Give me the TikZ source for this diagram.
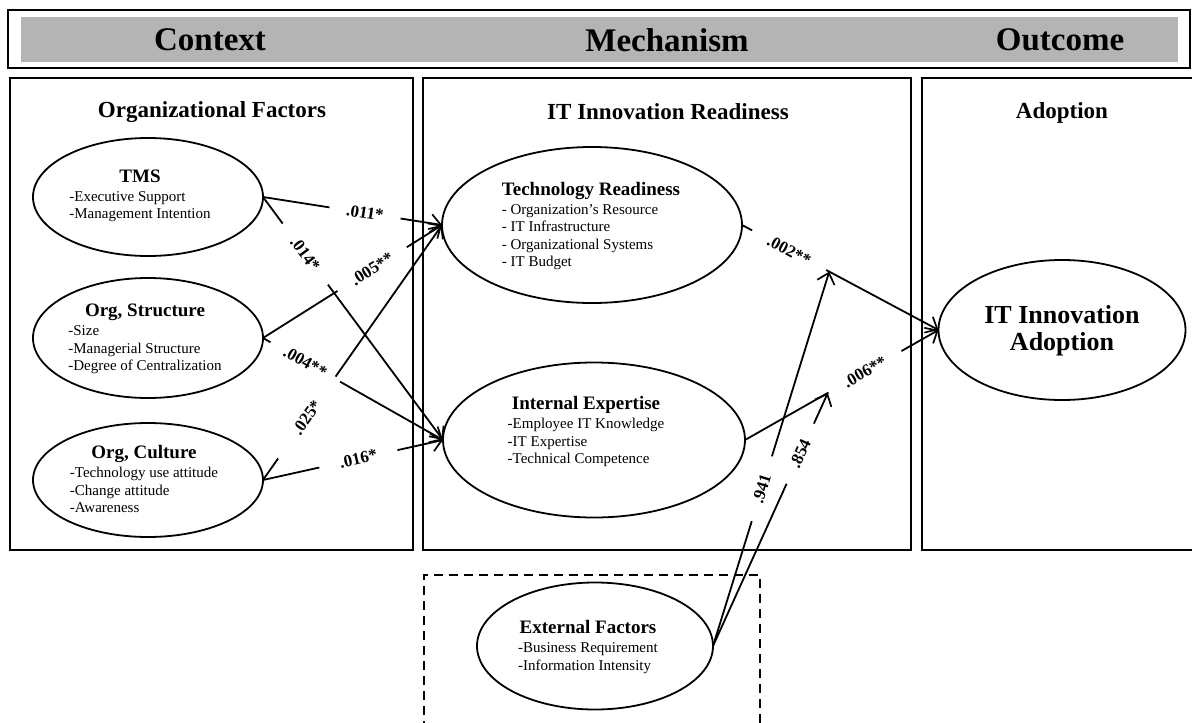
\documentclass[tikz,border=0pt]{standalone}
\usepackage{fontspec}
\setmainfont{Liberation Serif}
\usetikzlibrary{arrows.meta,calc,shapes.geometric}
\tikzset{
  frame/.style={draw, line width=1.8pt},
  oval/.style={draw, ellipse, line width=1.8pt, inner sep=0pt, outer sep=0pt},
  head/.style={font=\fontsize{33}{36}\selectfont\bfseries},
  sect/.style={font=\fontsize{23}{26}\selectfont\bfseries},
  body/.style={inner sep=0pt, font=\fontsize{15}{17.5}\selectfont},
  conn/.style={line width=1.8pt, -{Straight Barb[length=10pt,width=18pt,line width=1.7pt]}},
  lbl/.style={font=\fontsize{17}{19}\selectfont\bfseries, inner sep=1pt, sloped},
}
\newcommand{\oh}[1]{\multicolumn{1}{@{}c@{}}{\fontsize{19}{21}\selectfont\bfseries #1}\\[1.5pt]}
% connector with a gap around its label: from, to, pos, half gap, label
\newcommand{\gapline}[5]{%
  \draw[conn] let \p1=($(#2)-(#1)$), \n1={veclen(\x1,\y1)}, \n2={#3*\n1-#4}, \n3={2*#4} in
    [dash pattern=on \n2 off \n3 on 3000pt] (#1) -- node[lbl, pos=#3] {#5} (#2);}
\begin{document}
\begin{tikzpicture}[x=1pt,y=-1pt]
\useasboundingbox (0,0) rectangle (1192,723);
% header
\node[frame, minimum width=1182pt, minimum height=58pt, inner sep=0pt] (hdr) at (599,39) {};
\node[fill={rgb,255:red,180;green,180;blue,180}, minimum width=1157pt, minimum height=45pt, inner sep=0pt] (band) at (599,39.5) {};
\node[head] (hctx) at (210,40) {Context};
\node[head] (hmec) at (667,40) {Mechanism};
\node[head] (hout) at (1060,40) {Outcome};
% section frames
\draw[frame] (10,78) rectangle (413,550);
\draw[frame] (423,78) rectangle (911,550);
\draw[frame] (922,78) rectangle (1200,550);
\draw[frame, dash pattern=on 9pt off 6pt] (424,730) -- (424,575) -- (760,575) -- (760,730);
\node[sect] (sorg) at (212,112) {Organizational Factors};
\node[sect] (sit) at (668,112) {IT Innovation Readiness};
\node[sect] (sado) at (1062,113) {Adoption};
% ellipses
\node[oval, minimum width=230pt, minimum height=118pt] (tms) at (148,197) {};
\node[oval, minimum width=230pt, minimum height=120pt] (ors) at (148,338) {};
\node[oval, minimum width=230pt, minimum height=114pt] (orc) at (148,480) {};
\node[oval, minimum width=300pt, minimum height=156pt] (tr) at (592,225) {};
\node[oval, minimum width=302pt, minimum height=155pt] (ie) at (594,440) {};
\node[oval, minimum width=236pt, minimum height=127pt] (ext) at (595,646) {};
\node[oval, minimum width=247pt, minimum height=140pt] (ado) at (1062,330) {};
% texts
\node[body] (tmst) at (140,197) {\begin{tabular}{@{}l@{}}\oh{TMS}-Executive Support\\-Management Intention\end{tabular}};
\node[body] (orst) at (145,340) {\begin{tabular}{@{}l@{}}\oh{Org, Structure}-Size\\-Managerial Structure\\-Degree of Centralization\end{tabular}};
\node[body] (orct) at (144,482) {\begin{tabular}{@{}l@{}}\oh{Org, Culture}-Technology use attitude\\-Change attitude\\-Awareness\end{tabular}};
\node[body] (trt) at (591,227) {\begin{tabular}{@{}l@{}}\oh{Technology Readiness}- Organization's Resource\\- IT Infrastructure\\- Organizational Systems\\- IT Budget\end{tabular}};
\node[body] (iet) at (586,433) {\begin{tabular}{@{}l@{}}\oh{Internal Expertise}-Employee IT Knowledge\\-IT Expertise\\-Technical Competence\end{tabular}};
\node[body] (extt) at (588,648) {\begin{tabular}{@{}l@{}}\oh{External Factors}-Business Requirement\\-Information Intensity\end{tabular}};
\node[align=center, font=\fontsize{26}{27}\selectfont\bfseries] (adot) at (1062,331) {IT Innovation\\Adoption};
% connectors
\gapline{tms.east}{tr.west}{0.57}{36pt}{.011*}
\gapline{tms.east}{ie.west}{0.235}{38pt}{.014*}
\gapline{ors.east}{tr.west}{0.61}{41pt}{.005**}
\gapline{ors.east}{ie.west}{0.235}{40pt}{.004**}
\gapline{orc.east}{tr.west}{0.245}{50pt}{.025*}
\gapline{orc.east}{ie.west}{0.53}{40pt}{.016*}
\gapline{tr.east}{ado.west}{0.24}{42pt}{.002**}
\gapline{ie.east}{ado.west}{0.62}{42pt}{.006**}
\coordinate (m1) at ($(tr.east)!0.444!(ado.west)$);
\coordinate (m2) at ($(ie.east)!0.428!(ado.west)$);
\gapline{ext.east}{m1}{0.42}{34pt}{.941}
\gapline{ext.east}{m2}{0.76}{33pt}{.854}
\end{tikzpicture}
\end{document}
